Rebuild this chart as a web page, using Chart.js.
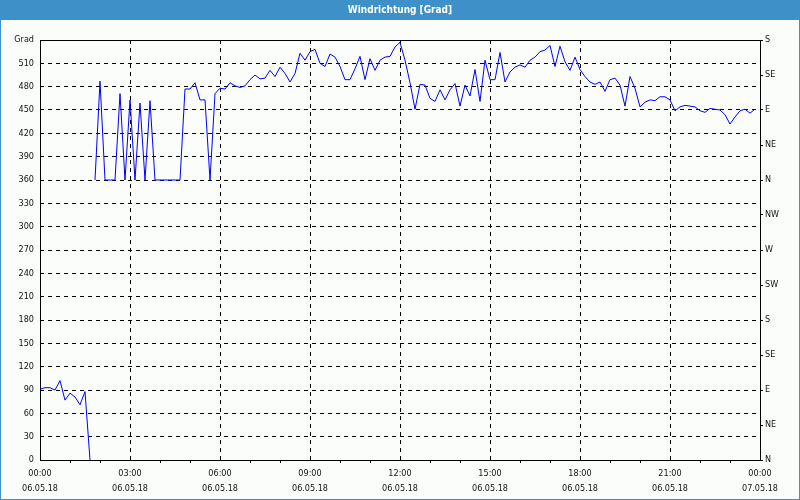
<!DOCTYPE html>
<html>
<head>
<meta charset="utf-8">
<script src="https://cdn.jsdelivr.net/npm/chart.js@4/dist/chart.umd.min.js"></script>
<style>
  body { margin: 0; background: #fff; }
  canvas { display: block; }
</style>
</head>
<body>
<canvas id="wind" width="800" height="500"></canvas>
<script>
// Windrichtung, 10-Minuten-Werte ab 06.05.18 00:00
var stepMinutes = 10;
var windDir = [
  91, 93, 93, 90, 102, 77, 86, 81, 71, 88,
  0, 360, 487, 360, 360, 360, 471, 360, 463, 360,
  459, 360, 462, 360, 360, 360, 360, 360, 360, 477,
  477, 485, 463, 463, 360, 471, 478, 477, 485, 481,
  479, 481, 489, 495, 490, 491, 501, 493, 505, 497,
  486, 497, 523, 514, 525, 528, 510, 506, 522, 518,
  506, 489, 489, 503, 519, 489, 516, 501, 514, 518,
  519, 531, 537, 514, 485, 451, 483, 482, 465, 461,
  476, 463, 476, 484, 455, 482, 468, 502, 461, 514,
  489, 489, 524, 486, 499, 505, 508, 505, 514, 518,
  525, 527, 533, 506, 532, 512, 501, 518, 502, 493,
  486, 483, 486, 474, 489, 491, 482, 455, 493, 478,
  454, 460, 463, 462, 467, 467, 463, 449, 454, 456,
  455, 454, 449, 447, 452, 451, 450, 444, 432, 441,
  449, 451, 446, 451
];
var timeLabels = ['00:00', '03:00', '06:00', '09:00', '12:00', '15:00', '18:00', '21:00', '00:00'];
var dateLabels = ['06.05.18', '06.05.18', '06.05.18', '06.05.18', '06.05.18', '06.05.18', '06.05.18', '06.05.18', '07.05.18'];
var dirLabels = ['N', 'NE', 'E', 'SE', 'S', 'SW', 'W', 'NW', 'N', 'NE', 'E', 'SE', 'S'];

var barColor = '#3d91c8';
var fontFam = "'Liberation Sans Narrow', 'DejaVu Sans Condensed', 'Liberation Sans', sans-serif";

Chart.defaults.font.family = fontFam;
Chart.defaults.font.size = 9;
Chart.defaults.color = '#111';

var points = windDir.map(function (v, i) {
  return { x: i * stepMinutes / 60, y: v };
});

var frame = {
  id: 'frame',
  beforeDraw: function (chart) {
    var c = chart.ctx;
    c.save();
    c.fillStyle = '#fbfdfb';
    c.fillRect(0, 0, chart.width, chart.height);
    c.fillStyle = barColor;
    c.fillRect(0, 0, chart.width, 20);
    c.strokeStyle = barColor;
    c.lineWidth = 1;
    c.strokeRect(0.5, 0.5, chart.width - 1, chart.height - 1);
    c.fillStyle = '#fff';
    c.font = 'bold 10px ' + fontFam;
    c.textAlign = 'center';
    c.textBaseline = 'middle';
    c.fillText('Windrichtung [Grad]', chart.width / 2, 10);
    c.restore();
  },
  beforeDatasetsDraw: function (chart) {
    var a = chart.chartArea, c = chart.ctx;
    c.save();
    c.strokeStyle = '#000';
    c.lineWidth = 1;
    c.strokeRect(Math.round(a.left) + 0.5, Math.round(a.top) + 0.5,
      Math.round(a.right - a.left), Math.round(a.bottom - a.top));
    c.restore();
  }
};

new Chart(document.getElementById('wind'), {
  type: 'line',
  data: {
    datasets: [{
      label: 'Windrichtung',
      data: points,
      borderColor: '#0000ff',
      borderWidth: 1,
      pointRadius: 0,
      tension: 0,
      fill: false,
      segment: {
        // Sprung ueber 0/360 nicht verbinden
        borderColor: function (s) {
          return Math.abs(s.p1.parsed.y - s.p0.parsed.y) > 300 ? 'transparent' : '#0000ff';
        }
      }
    }]
  },
  options: {
    responsive: false,
    animation: false,
    devicePixelRatio: 1,
    layout: { padding: { top: 40, left: 0, right: 0, bottom: 0 } },
    plugins: {
      legend: { display: false },
      tooltip: { enabled: false }
    },
    scales: {
      x: {
        type: 'linear',
        min: 0,
        max: 24,
        afterFit: function (s) { s.height = 40; },
        border: { display: false, dash: [4, 4] },
        grid: {
          color: function (ctx) { return ctx.tick && ctx.tick.value % 3 === 0 ? '#000' : 'transparent'; },
          tickColor: function (ctx) { return ctx.tick && ctx.tick.value % 3 === 0 ? 'transparent' : '#000'; },
          tickLength: 3,
          lineWidth: 1
        },
        ticks: {
          stepSize: 1,
          autoSkip: false,
          maxRotation: 0,
          padding: 3,
          font: { size: 9, lineHeight: 1.65 },
          callback: function (v) {
            return v % 3 === 0 ? [timeLabels[v / 3], dateLabels[v / 3]] : '';
          }
        }
      },
      y: {
        type: 'linear',
        position: 'left',
        min: 0,
        max: 540,
        afterFit: function (s) { s.width = 40; },
        border: { display: false, dash: [4, 4] },
        grid: { color: '#000', drawTicks: false, lineWidth: 1 },
        ticks: {
          stepSize: 30,
          padding: 6,
          callback: function (v) { return v === 540 ? 'Grad' : v; }
        }
      },
      y2: {
        type: 'linear',
        position: 'right',
        min: 0,
        max: 540,
        afterFit: function (s) { s.width = 40; },
        border: { display: false },
        grid: { drawOnChartArea: false, drawTicks: true, tickLength: 3, color: '#000' },
        ticks: {
          stepSize: 45,
          padding: 2,
          callback: function (v) { return dirLabels[v / 45]; }
        }
      }
    }
  },
  plugins: [frame]
});
</script>
</body>
</html>
